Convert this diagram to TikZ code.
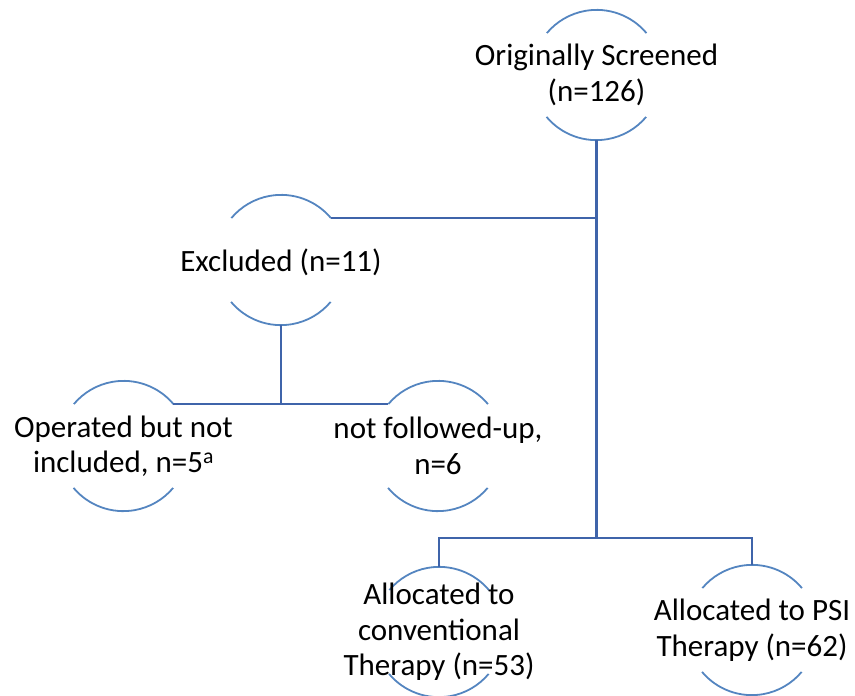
\documentclass[tikz,border=0pt]{standalone}
\usepackage{fontspec}
\setmainfont{Carlito}
\definecolor{arccol}{RGB}{84,133,192}
\definecolor{linkcol}{RGB}{63,100,170}
\begin{document}
\begin{tikzpicture}[x=1pt,y=-1pt,
  circ/.style={circle,minimum size=130pt,inner sep=0pt},
  txt/.style={align=center,font=\fontsize{31}{35.5}\selectfont,inner sep=0pt},
  arcline/.style={draw=arccol,line width=1.8pt},
  link/.style={draw=linkcol,line width=2.6pt}]
\useasboundingbox (0,0) rectangle (855,696);
% circles (centres)
\node[circ] (top) at (596.5,75) {};
\node[circ] (excl) at (281,260) {};
\node[circ] (op) at (123.5,446) {};
\node[circ] (nf) at (438,446) {};
\node[circ] (conv) at (439,632) {};
\node[circ] (psi) at (752,630) {};
% arcs
\foreach \n in {top,excl,op,nf,conv,psi}{
  \draw[arcline] (\n.40) arc[start angle=40,end angle=140,radius=65pt];
  \draw[arcline] (\n.220) arc[start angle=220,end angle=320,radius=65pt];
}
% texts
\node[txt] (ttop) at (top) {Originally Screened\\(n=126)};
\node[txt] (texcl) at (281,262) {Excluded (n=11)};
\node[txt] (top2) at (op) {Operated but not\\included, n=5\textsuperscript{a}};
\node[txt] (tnf) at (nf) {not followed-up,\\n=6};
\node[txt] (tconv) at (conv) {Allocated to\\conventional\\Therapy (n=53)};
\node[txt] (tpsi) at (psi) {Allocated to PSI\\Therapy (n=62)};
% connectors
\coordinate (bus) at (596.5,538);
\draw[link] (top.south) |- (excl.40);
\draw[link] (top.south) -- (bus) -| (conv.north);
\draw[link] (bus) -| (psi.north);
\draw[link] (excl.south) |- (op.40);
\draw[link] (excl.south) |- (nf.140);
\end{tikzpicture}
\end{document}
